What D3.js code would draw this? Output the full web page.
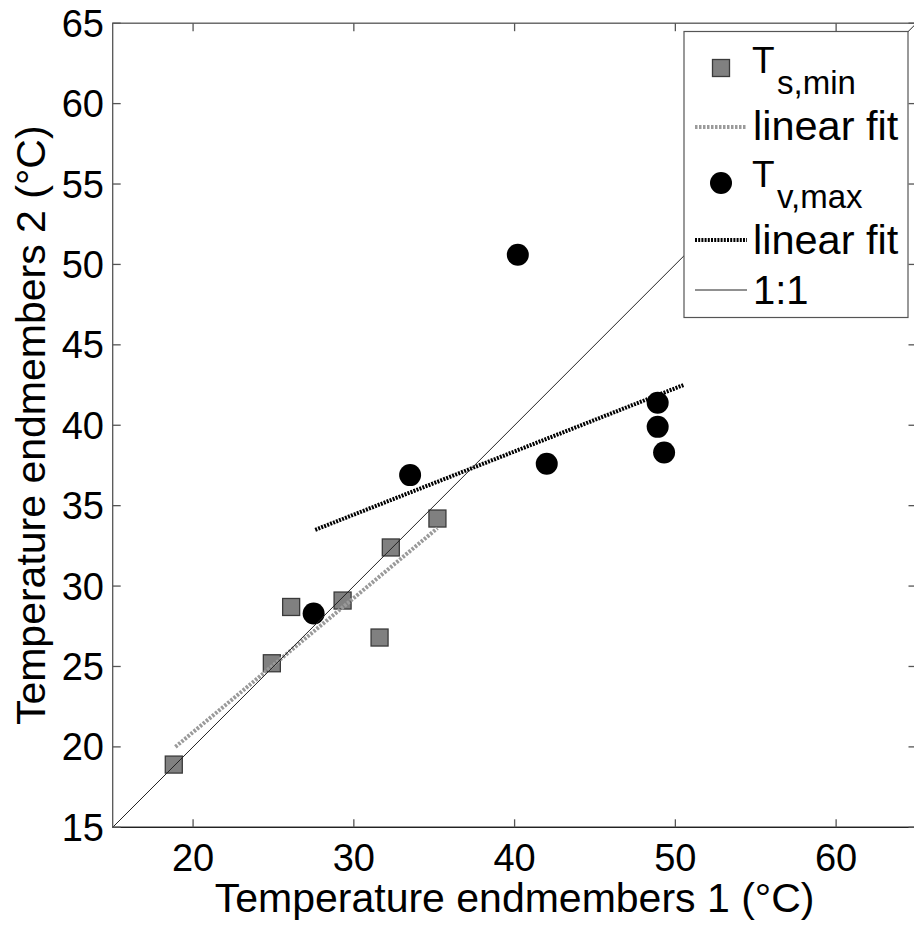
<html>
<head>
<script src="https://d3js.org/d3.v7.min.js"></script>
<style>
  body { margin: 0; background: white; }
  text { font-family: "Liberation Sans", Arial, sans-serif; fill: black; }
</style>
</head>
<body>
<svg id="chart" width="914" height="926"></svg>
<script>
  // values
  const tsMinX = [18.8, 24.9, 26.1, 29.3, 31.6, 32.3, 35.2];
  const tsMinY = [18.9, 25.2, 28.7, 29.1, 26.8, 32.4, 34.2];
  const tvMaxX = [27.5, 33.5, 40.2, 42.0, 48.9, 48.9, 49.3];
  const tvMaxY = [28.3, 36.9, 50.6, 37.6, 41.4, 39.9, 38.3];
  const tsFitX = [18.9, 35.2];
  const tsFitY = [20.0, 33.6];
  const tvFitX = [27.6, 50.5];
  const tvFitY = [33.5, 42.5];
  const oneToOne = [15, 65];
  const xTicks = [20, 30, 40, 50, 60];
  const yTicks = [15, 20, 25, 30, 35, 40, 45, 50, 55, 60, 65];

  const svg = d3.select("#chart");
  const x = d3.scaleLinear().domain([15, 65]).range([112.7, 916.5]);
  const y = d3.scaleLinear().domain([15, 65]).range([827.3, 23.2]);
  const tickLen = 8;

  svg.append("defs").append("clipPath").attr("id", "plotclip")
    .append("rect")
    .attr("x", x(15)).attr("y", y(65))
    .attr("width", x(65) - x(15)).attr("height", y(15) - y(65));

  const plot = svg.append("g").attr("clip-path", "url(#plotclip)");

  const line = d3.line().x(d => x(d[0])).y(d => y(d[1]));

  // squares
  const tsPts = tsMinX.map((v, i) => [v, tsMinY[i]]);
  plot.selectAll("rect.ts").data(tsPts).join("rect")
    .attr("class", "ts")
    .attr("x", d => x(d[0]) - 8.5).attr("y", d => y(d[1]) - 8.5)
    .attr("width", 17).attr("height", 17)
    .attr("fill", "#808080").attr("stroke", "#3a3a3a").attr("stroke-width", 1.3);

  plot.append("path")
    .attr("d", line(tsFitX.map((v, i) => [v, tsFitY[i]])))
    .attr("stroke", "#9a9a9a").attr("stroke-width", 4)
    .attr("stroke-dasharray", "2.5,1.5").attr("fill", "none");

  const tvPts = tvMaxX.map((v, i) => [v, tvMaxY[i]]);
  plot.selectAll("circle.tv").data(tvPts).join("circle")
    .attr("class", "tv")
    .attr("cx", d => x(d[0])).attr("cy", d => y(d[1]))
    .attr("r", 11).attr("fill", "black");

  plot.append("path")
    .attr("d", line(tvFitX.map((v, i) => [v, tvFitY[i]])))
    .attr("stroke", "black").attr("stroke-width", 4)
    .attr("stroke-dasharray", "2,1.2").attr("fill", "none");

  plot.append("path")
    .attr("d", line(oneToOne.map(v => [v, v])))
    .attr("stroke", "#222").attr("stroke-width", 1).attr("fill", "none");

  // frame and ticks
  const frame = svg.append("g").attr("stroke", "#555").attr("stroke-width", 1.3);
  frame.append("rect")
    .attr("x", x(15)).attr("y", y(65))
    .attr("width", x(65) - x(15)).attr("height", y(15) - y(65))
    .attr("fill", "none");
  frame.append("line").attr("x1", x(15)).attr("x2", x(65)).attr("y1", y(15)).attr("y2", y(15))
    .attr("stroke", "#222");

  frame.selectAll("line.xt").data(xTicks).join("line")
    .attr("class", "xt")
    .attr("x1", d => x(d)).attr("x2", d => x(d))
    .attr("y1", y(15)).attr("y2", y(15) - tickLen);
  frame.selectAll("line.xtt").data(xTicks).join("line")
    .attr("class", "xtt")
    .attr("x1", d => x(d)).attr("x2", d => x(d))
    .attr("y1", y(65)).attr("y2", y(65) + tickLen);
  frame.selectAll("line.yt").data(yTicks).join("line")
    .attr("class", "yt")
    .attr("x1", x(15)).attr("x2", x(15) + tickLen)
    .attr("y1", d => y(d)).attr("y2", d => y(d));
  frame.selectAll("line.ytr").data(yTicks).join("line")
    .attr("class", "ytr")
    .attr("x1", x(65)).attr("x2", x(65) - tickLen)
    .attr("y1", d => y(d)).attr("y2", d => y(d));

  svg.selectAll("text.xl").data(xTicks).join("text")
    .attr("class", "xl")
    .attr("x", d => x(d)).attr("y", 871)
    .attr("text-anchor", "middle").attr("font-size", 38)
    .text(d => d);
  svg.selectAll("text.yl").data(yTicks).join("text")
    .attr("class", "yl")
    .attr("x", 104).attr("y", d => y(d) + 13.5)
    .attr("text-anchor", "end").attr("font-size", 38)
    .text(d => d);

  svg.append("text")
    .attr("x", (x(15) + x(65)) / 2).attr("y", 912)
    .attr("text-anchor", "middle").attr("font-size", 41)
    .text("Temperature endmembers 1 (°C)");
  svg.append("text")
    .attr("transform", "translate(45," + ((y(15) + y(65)) / 2) + ") rotate(-90)")
    .attr("text-anchor", "middle").attr("font-size", 41)
    .text("Temperature endmembers 2 (°C)");

  // legend
  const lg = svg.append("g");
  lg.append("rect").attr("x", 684).attr("y", 31.5).attr("width", 224).attr("height", 286)
    .attr("fill", "white").attr("stroke", "#555").attr("stroke-width", 1.2);

  lg.append("rect").attr("x", 721 - 8.5).attr("y", 68 - 8.5).attr("width", 17).attr("height", 17)
    .attr("fill", "#808080").attr("stroke", "#3a3a3a").attr("stroke-width", 1.3);
  lg.append("text").attr("x", 752).attr("y", 73).attr("font-size", 37).text("T");
  lg.append("text").attr("x", 777).attr("y", 94).attr("font-size", 33).text("s,min");

  lg.append("line").attr("x1", 695).attr("x2", 747).attr("y1", 127).attr("y2", 127)
    .attr("stroke", "#9a9a9a").attr("stroke-width", 4).attr("stroke-dasharray", "2.5,1.5");
  lg.append("text").attr("x", 753).attr("y", 140).attr("font-size", 41.5).text("linear fit");

  lg.append("circle").attr("cx", 721).attr("cy", 183).attr("r", 11).attr("fill", "black");
  lg.append("text").attr("x", 752).attr("y", 187).attr("font-size", 37).text("T");
  lg.append("text").attr("x", 777).attr("y", 208).attr("font-size", 33).text("v,max");

  lg.append("line").attr("x1", 695).attr("x2", 747).attr("y1", 240).attr("y2", 240)
    .attr("stroke", "black").attr("stroke-width", 4).attr("stroke-dasharray", "2,1.2");
  lg.append("text").attr("x", 753).attr("y", 254).attr("font-size", 41.5).text("linear fit");

  lg.append("line").attr("x1", 695).attr("x2", 747).attr("y1", 290).attr("y2", 290)
    .attr("stroke", "#222").attr("stroke-width", 1);
  lg.append("text").attr("x", 753).attr("y", 304).attr("font-size", 40).text("1:1");
</script>
</body>
</html>
